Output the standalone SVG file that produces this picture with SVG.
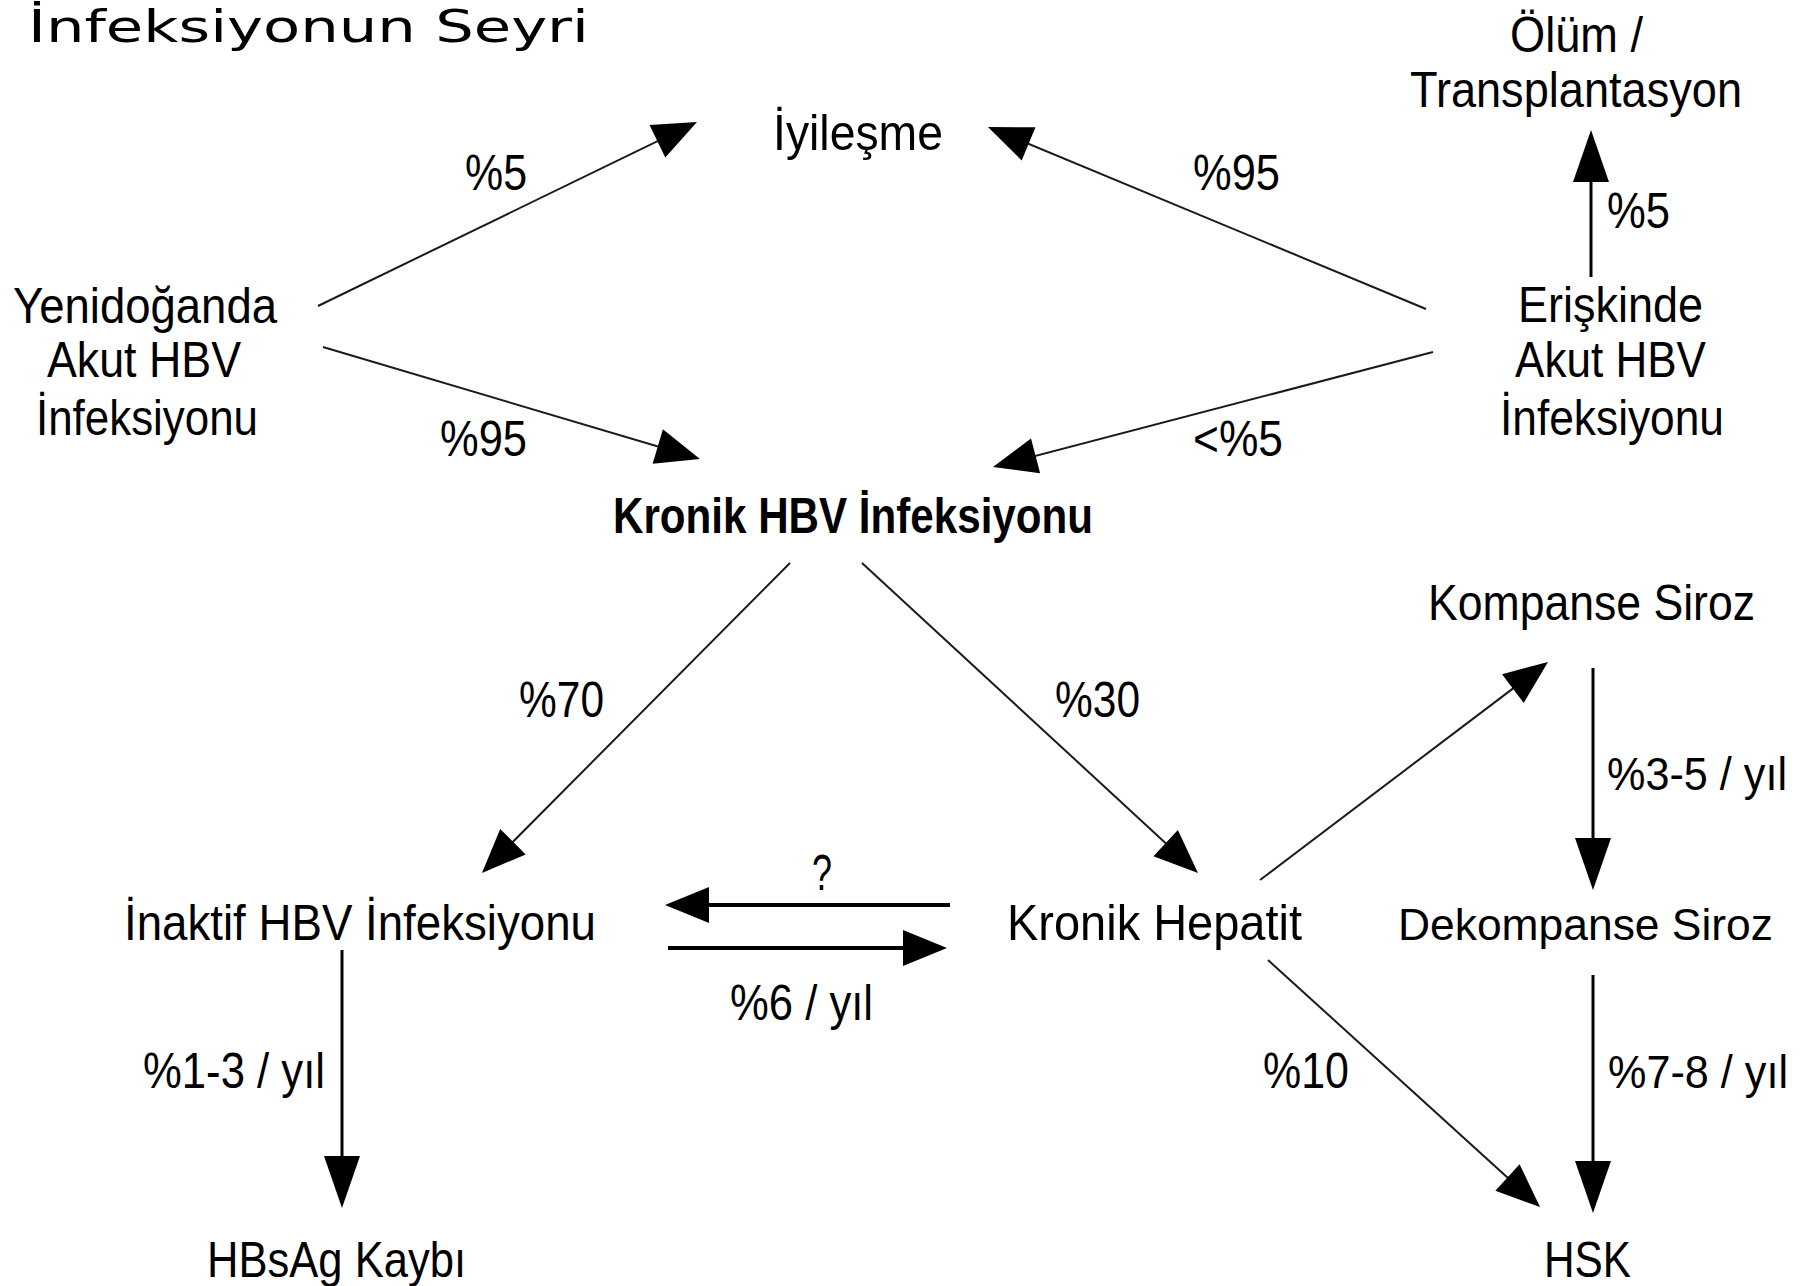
<svg xmlns="http://www.w3.org/2000/svg" width="1808" height="1286" viewBox="0 0 1808 1286">
<style>
  .t { font-family: "Liberation Sans Narrow", "Liberation Sans", Arial, sans-serif; font-size: 50px; fill: #000; }
  .s { font-size: 46px; }
  .xs { font-size: 45px; }
  .b { font-weight: bold; }
  .title { font-family: "DejaVu Sans", "Liberation Sans", sans-serif; font-size: 44px; fill: #000; }
  .d { stroke: #1a1a1a; stroke-width: 2; fill: none; }
  .v { stroke: #000; stroke-width: 3; fill: none; }
  .h { stroke: #000; stroke-width: 4; fill: none; }
</style>
<defs>
  <marker id="ah" markerUnits="userSpaceOnUse" markerWidth="44" markerHeight="36" refX="38" refY="18" orient="auto" overflow="visible">
    <path d="M0,0 L44,18 L0,36 z" fill="#000"/>
  </marker>
  <marker id="ahv" markerUnits="userSpaceOnUse" markerWidth="52" markerHeight="36" refX="46" refY="18" orient="auto" overflow="visible">
    <path d="M0,0 L52,18 L0,36 z" fill="#000"/>
  </marker>
</defs>
<rect width="1808" height="1286" fill="#fff"/>

<text class="title" x="28" y="42" textLength="561" lengthAdjust="spacingAndGlyphs">İnfeksiyonun Seyri</text>

<g id="connectors">
  <line class="d" x1="318" y1="306" x2="691.6" y2="124.6" marker-end="url(#ah)"/>
  <line class="d" x1="323" y1="347" x2="694.2" y2="457.3" marker-end="url(#ah)"/>
  <line class="d" x1="1426" y1="309" x2="993.5" y2="129.3" marker-end="url(#ah)"/>
  <line class="d" x1="1433" y1="352" x2="998.8" y2="465.5" marker-end="url(#ah)"/>
  <line class="v" x1="1591" y1="277" x2="1591" y2="136" marker-end="url(#ahv)"/>
  <line class="d" x1="790" y1="563" x2="486.2" y2="868.7" marker-end="url(#ah)"/>
  <line class="d" x1="862" y1="563" x2="1193.6" y2="868.9" marker-end="url(#ah)"/>
  <line class="d" x1="1260" y1="880" x2="1543.2" y2="665.6" marker-end="url(#ah)"/>
  <line class="v" x1="1593" y1="668" x2="1593" y2="884" marker-end="url(#ahv)"/>
  <line class="v" x1="1593" y1="975" x2="1593" y2="1207" marker-end="url(#ahv)"/>
  <line class="d" x1="1268" y1="960" x2="1535.6" y2="1203" marker-end="url(#ah)"/>
  <line class="v" x1="342" y1="950" x2="342" y2="1202" marker-end="url(#ahv)"/>
  <line class="h" x1="950" y1="905" x2="671" y2="905" marker-end="url(#ah)"/>
  <line class="h" x1="668" y1="948" x2="941" y2="948" marker-end="url(#ah)"/>

  <text class="t" x="465" y="190" textLength="62" lengthAdjust="spacingAndGlyphs">%5</text>
  <text class="t" x="1193" y="190" textLength="87" lengthAdjust="spacingAndGlyphs">%95</text>
  <text class="t" x="1607" y="228" textLength="63" lengthAdjust="spacingAndGlyphs">%5</text>
  <text class="t" x="440" y="456" textLength="87" lengthAdjust="spacingAndGlyphs">%95</text>
  <text class="t" x="1193" y="456" textLength="90" lengthAdjust="spacingAndGlyphs">&lt;%5</text>
  <text class="t" x="519" y="717" textLength="85" lengthAdjust="spacingAndGlyphs">%70</text>
  <text class="t" x="1055" y="717" textLength="85" lengthAdjust="spacingAndGlyphs">%30</text>
  <text class="t s" x="1607" y="790" textLength="180" lengthAdjust="spacingAndGlyphs">%3-5 / yıl</text>
  <text class="t" x="812" y="890" textLength="20" lengthAdjust="spacingAndGlyphs">?</text>
  <text class="t" x="730" y="1020" textLength="143" lengthAdjust="spacingAndGlyphs">%6 / yıl</text>
  <text class="t" x="143" y="1088" textLength="182" lengthAdjust="spacingAndGlyphs">%1-3 / yıl</text>
  <text class="t" x="1263" y="1088" textLength="86" lengthAdjust="spacingAndGlyphs">%10</text>
  <text class="t s" x="1608" y="1088" textLength="180" lengthAdjust="spacingAndGlyphs">%7-8 / yıl</text>
</g>

<g id="node-olum">
  <text class="t" x="1510" y="52" textLength="133" lengthAdjust="spacingAndGlyphs">Ölüm /</text>
  <text class="t" x="1410" y="107" textLength="332" lengthAdjust="spacingAndGlyphs">Transplantasyon</text>
</g>
<g id="node-iyilesme">
  <text class="t" x="773" y="150" textLength="170" lengthAdjust="spacingAndGlyphs">İyileşme</text>
</g>
<g id="node-yenidogan">
  <text class="t" x="13" y="323" textLength="264" lengthAdjust="spacingAndGlyphs">Yenidoğanda</text>
  <text class="t" x="47" y="377" textLength="194" lengthAdjust="spacingAndGlyphs">Akut HBV</text>
  <text class="t" x="36" y="435" textLength="222" lengthAdjust="spacingAndGlyphs">İnfeksiyonu</text>
</g>
<g id="node-eriskin">
  <text class="t" x="1518" y="322" textLength="185" lengthAdjust="spacingAndGlyphs">Erişkinde</text>
  <text class="t" x="1515" y="377" textLength="191" lengthAdjust="spacingAndGlyphs">Akut HBV</text>
  <text class="t" x="1500" y="435" textLength="224" lengthAdjust="spacingAndGlyphs">İnfeksiyonu</text>
</g>
<g id="node-kronik-hbv">
  <text class="t b" x="613" y="533" textLength="480" lengthAdjust="spacingAndGlyphs">Kronik HBV İnfeksiyonu</text>
</g>
<g id="node-kompanse">
  <text class="t" x="1428" y="620" textLength="327" lengthAdjust="spacingAndGlyphs">Kompanse Siroz</text>
</g>
<g id="node-inaktif">
  <text class="t" x="124" y="940" textLength="472" lengthAdjust="spacingAndGlyphs">İnaktif HBV İnfeksiyonu</text>
</g>
<g id="node-kronik-hepatit">
  <text class="t" x="1007" y="940" textLength="295" lengthAdjust="spacingAndGlyphs">Kronik Hepatit</text>
</g>
<g id="node-dekompanse">
  <text class="t xs" x="1398" y="940" textLength="375" lengthAdjust="spacingAndGlyphs">Dekompanse Siroz</text>
</g>
<g id="node-hbsag">
  <text class="t" x="207" y="1277" textLength="259" lengthAdjust="spacingAndGlyphs">HBsAg Kaybı</text>
</g>
<g id="node-hsk">
  <text class="t" x="1544" y="1277" textLength="87" lengthAdjust="spacingAndGlyphs">HSK</text>
</g>
</svg>
